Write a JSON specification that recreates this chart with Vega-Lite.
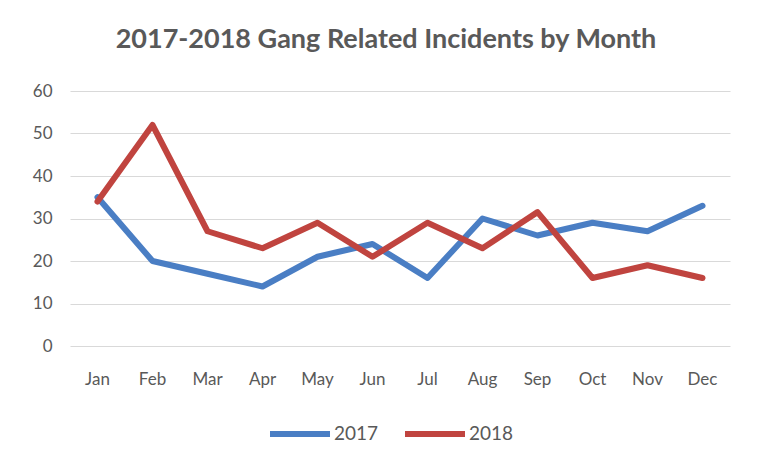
{
  "$schema": "https://vega.github.io/schema/vega-lite/v6.json",
  "width": 660,
  "height": 255,
  "autosize": {"type": "none"},
  "padding": {"left": 70, "top": 91, "right": 30, "bottom": 121},
  "background": "white",
  "title": {
    "text": "2017-2018  Gang Related Incidents by Month",
    "font": "Lato",
    "fontSize": 27,
    "fontWeight": "bold",
    "color": "#595959",
    "anchor": "middle",
    "dx": -14,
    "offset": 28
  },
  "data": {
    "values": [
      {"month": "Jan", "year": "2017", "incidents": 35},
      {"month": "Feb", "year": "2017", "incidents": 20},
      {"month": "Mar", "year": "2017", "incidents": 17},
      {"month": "Apr", "year": "2017", "incidents": 14},
      {"month": "May", "year": "2017", "incidents": 21},
      {"month": "Jun", "year": "2017", "incidents": 24},
      {"month": "Jul", "year": "2017", "incidents": 16},
      {"month": "Aug", "year": "2017", "incidents": 30},
      {"month": "Sep", "year": "2017", "incidents": 26},
      {"month": "Oct", "year": "2017", "incidents": 29},
      {"month": "Nov", "year": "2017", "incidents": 27},
      {"month": "Dec", "year": "2017", "incidents": 33},
      {"month": "Jan", "year": "2018", "incidents": 34},
      {"month": "Feb", "year": "2018", "incidents": 52},
      {"month": "Mar", "year": "2018", "incidents": 27},
      {"month": "Apr", "year": "2018", "incidents": 23},
      {"month": "May", "year": "2018", "incidents": 29},
      {"month": "Jun", "year": "2018", "incidents": 21},
      {"month": "Jul", "year": "2018", "incidents": 29},
      {"month": "Aug", "year": "2018", "incidents": 23},
      {"month": "Sep", "year": "2018", "incidents": 31.5},
      {"month": "Oct", "year": "2018", "incidents": 16},
      {"month": "Nov", "year": "2018", "incidents": 19},
      {"month": "Dec", "year": "2018", "incidents": 16}
    ]
  },
  "mark": {"type": "line", "strokeWidth": 6, "strokeJoin": "round", "strokeCap": "round"},
  "encoding": {
    "x": {
      "field": "month",
      "type": "ordinal",
      "sort": ["Jan","Feb","Mar","Apr","May","Jun","Jul","Aug","Sep","Oct","Nov","Dec"],
      "scale": {"type": "band", "paddingInner": 0, "paddingOuter": 0},
      "axis": {
        "title": null,
        "labelAngle": 0,
        "domain": false,
        "ticks": false,
        "grid": false,
        "labelFont": "Lato",
        "labelFontSize": 17,
        "labelColor": "#595959",
        "labelPadding": 25
      }
    },
    "y": {
      "field": "incidents",
      "type": "quantitative",
      "scale": {"domain": [0, 60]},
      "axis": {
        "title": null,
        "values": [0, 10, 20, 30, 40, 50, 60],
        "domain": false,
        "ticks": false,
        "grid": true,
        "gridColor": "#d9d9d9",
        "gridWidth": 1.2,
        "labelFont": "Lato",
        "labelFontSize": 17,
        "labelColor": "#595959",
        "labelPadding": 18
      }
    },
    "color": {
      "field": "year",
      "type": "nominal",
      "scale": {"domain": ["2017", "2018"], "range": ["#4a7ec4", "#c0443f"]},
      "legend": {
        "title": null,
        "orient": "none",
        "direction": "horizontal",
        "legendX": 197,
        "legendY": 310,
        "symbolType": "stroke",
        "symbolSize": 3600,
        "symbolStrokeWidth": 6,
        "labelFont": "Lato",
        "labelFontSize": 19,
        "labelColor": "#595959",
        "labelOffset": 1,
        "columnPadding": 14
      }
    }
  },
  "config": {"view": {"stroke": null}}
}
